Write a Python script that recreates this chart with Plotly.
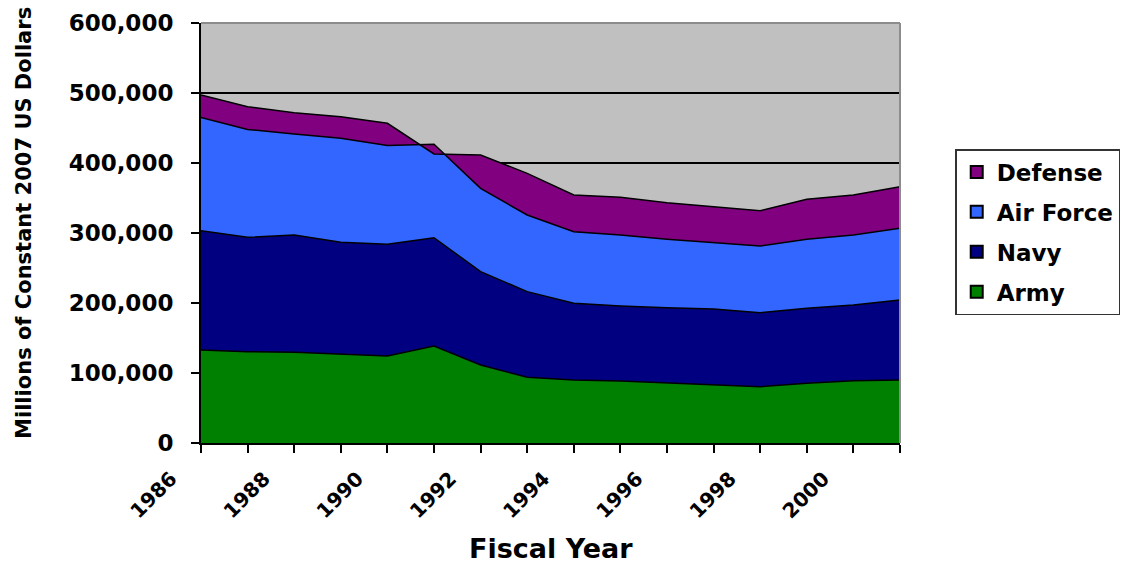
import plotly.graph_objects as go

# Fiscal years (one point per year) and tick labels shown every other year
years = list(range(1986, 2002))
label_years = [1986, 1988, 1990, 1992, 1994, 1996, 1998, 2000]
label_text = ["1986", "1988", "1990", "1992", "1994", "1996", "1998", "2000"]

# Budget by component, millions of constant 2007 US dollars
army = [133000, 130400, 129500, 126700, 124300, 138600, 111400, 93800,
        90000, 88600, 86200, 83800, 80500, 85200, 89000, 90000]
navy = [170300, 163400, 167500, 160000, 159500, 154700, 133400, 122400,
        109500, 107100, 107100, 107600, 105700, 107200, 108100, 114300]
air_force = [161900, 154200, 144400, 148500, 141200, 133400, 119000, 109500,
             102400, 101400, 97700, 94800, 95200, 98600, 100000, 102400]
defense = [31800, 32500, 30500, 31000, 31700, -13700, 47600, 59500,
           52400, 53900, 52300, 51400, 50500, 57100, 57200, 59500]

y_ticks = [0, 100000, 200000, 300000, 400000, 500000, 600000]

series = [
    ("Army", army, "#008000"),
    ("Navy", navy, "#000080"),
    ("Air Force", air_force, "#3366FF"),
    ("Defense", defense, "#800080"),
]

FONT = "DejaVu Sans"
BOLD = dict(family=FONT, weight="bold", color="black")

fig = go.Figure()
for name, vals, color in series:
    fig.add_trace(go.Scatter(
        x=years, y=vals, name=name, mode="lines",
        stackgroup="budget", fillcolor=color,
        line=dict(color="black", width=1.5),
        showlegend=False, hoverinfo="x+y+name",
    ))

# Square legend keys with black outlines
for name, vals, color in reversed(series):
    fig.add_trace(go.Scatter(
        x=[None], y=[None], name=name, mode="markers",
        legendgroup=name,
        marker=dict(symbol="square", size=15, color=color,
                    line=dict(color="black", width=1.5)),
    ))

fig.update_layout(
    width=1130, height=565,
    margin=dict(l=201, r=230, t=23, b=122, autoexpand=False),
    paper_bgcolor="white",
    plot_bgcolor="#C0C0C0",
    font=dict(family=FONT, size=22, color="black"),
    showlegend=True,
    legend=dict(
        x=1.079, y=0.70, xanchor="left", yanchor="top",
        bgcolor="white", bordercolor="#333333", borderwidth=1.5,
        font=dict(size=23, **BOLD),
        tracegroupgap=7, itemsizing="constant",
    ),
    xaxis=dict(
        range=[1986, 2001],
        tickmode="array", tickvals=label_years, ticktext=label_text,
        tickangle=-45, ticks="outside", ticklen=8, tickwidth=1.5,
        tickcolor="black", ticklabelshift=-30, ticklabelstandoff=6,
        minor=dict(tickmode="linear", tick0=1986, dtick=1, ticks="outside",
                   ticklen=8, tickwidth=1.5, tickcolor="black", showgrid=False),
        showgrid=False, zeroline=False,
        showline=True, linecolor="black", linewidth=2,
        tickfont=dict(size=20, **BOLD),
    ),
    yaxis=dict(
        range=[0, 600000],
        tickmode="array", tickvals=y_ticks, tickformat=",d",
        ticks="outside", ticklen=8, tickwidth=1.5, tickcolor="black",
        ticklabelstandoff=13,
        showgrid=True, gridcolor="black", gridwidth=1.5,
        zeroline=False,
        showline=True, linecolor="black", linewidth=2,
        tickfont=dict(size=23, **BOLD),
    ),
    shapes=[
        dict(type="line", xref="paper", yref="paper", x0=0, x1=1, y0=1, y1=1,
             line=dict(color="#8c8c8c", width=2), layer="above"),
        dict(type="line", xref="paper", yref="paper", x0=1, x1=1, y0=0, y1=1,
             line=dict(color="#8c8c8c", width=2), layer="above"),
    ],
    annotations=[
        dict(text="<b>Fiscal Year</b>", xref="paper", yref="paper",
             x=0.5, y=-0.25, xanchor="center", yanchor="middle",
             showarrow=False, font=dict(family=FONT, size=27, color="black")),
        dict(text="<b>Millions of Constant 2007 US Dollars</b>",
             xref="paper", yref="paper", x=-0.2532, y=0.524,
             xanchor="center", yanchor="middle", textangle=-90,
             showarrow=False, font=dict(family=FONT, size=21, color="black")),
    ],
)

fig.write_html("out.html")
